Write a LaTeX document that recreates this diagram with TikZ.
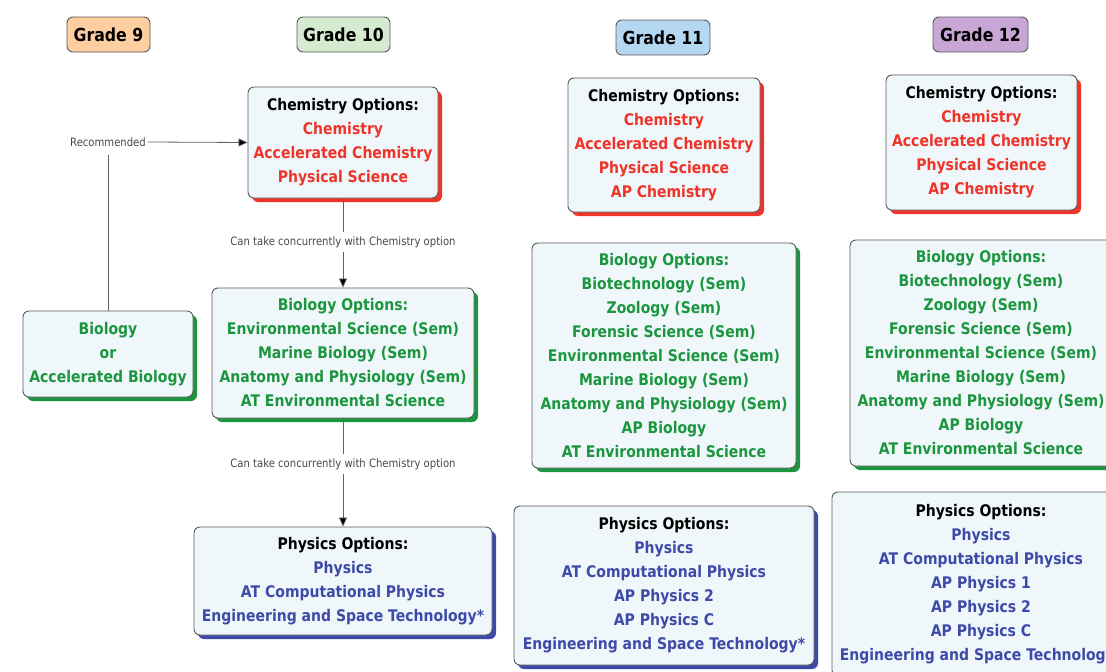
\documentclass[tikz,border=0pt]{standalone}
\usepackage{fontspec}
\setmainfont{DejaVu Sans}[FakeStretch=0.875]
\usetikzlibrary{shadows,arrows.meta}
\definecolor{chemred}{RGB}{238,52,40}
\definecolor{biogreen}{RGB}{28,150,62}
\definecolor{physblue}{RGB}{62,74,168}
\definecolor{boxfill}{RGB}{240,247,250}
\definecolor{boxline}{RGB}{90,90,90}
\definecolor{gnine}{RGB}{252,206,160}
\definecolor{gten}{RGB}{212,235,208}
\definecolor{geleven}{RGB}{180,216,242}
\definecolor{gtwelve}{RGB}{200,166,214}
\begin{document}
\begin{tikzpicture}[x=1pt,y=-1pt,
  box/.style={draw=boxline, line width=0.9pt, fill=boxfill, rounded corners=6pt,
    inner sep=0pt, align=center, font=\bfseries\fontsize{16}{24}\selectfont},
  chembox/.style={box, text=chemred, drop shadow={shadow xshift=4pt, shadow yshift=-4pt, fill=chemred, opacity=1}},
  biobox/.style={box, text=biogreen, drop shadow={shadow xshift=4pt, shadow yshift=-4pt, fill=biogreen, opacity=1}},
  physbox/.style={box, text=physblue, drop shadow={shadow xshift=4pt, shadow yshift=-4pt, fill=physblue, opacity=1}},
  grade/.style={draw=boxline, rounded corners=6pt, line width=0.9pt, inner sep=0pt,
    font=\bfseries\fontsize{18}{20}\selectfont, minimum height=35pt},
  lbl/.style={font=\fontsize{11.5}{12}\selectfont, text=black!72, inner sep=2pt},
  conn/.style={draw=black!62, line width=0.8pt},
  arr/.style={conn, -{Triangle[length=9pt,width=8pt,fill=black]}}
]
\useasboundingbox (0,0) rectangle (1106,672);
\clip (0,0) rectangle (1106,672);

% grade headers
\node[grade, fill=gnine, minimum width=83pt] (g9) at (108.5,34.5) {Grade 9};
\node[grade, fill=gten, minimum width=93pt] (g10) at (343.5,34.5) {Grade 10};
\node[grade, fill=geleven, minimum width=94pt] (g11) at (663,37.5) {Grade 11};
\node[grade, fill=gtwelve, minimum width=95pt] (g12) at (980.5,34.5) {Grade 12};

% grade 9
\node[biobox, minimum width=170pt, minimum height=86pt] (bio9) at (108,354)
  {Biology\\or\\Accelerated Biology};
\node[lbl] (rec) at (108,142) {Recommended};

% grade 10
\node[chembox, minimum width=190pt, minimum height=111pt] (chemA) at (343,142.5)
  {{\color{black}Chemistry Options:}\\Chemistry\\Accelerated Chemistry\\Physical Science};
\node[biobox, minimum width=262pt, minimum height=130pt] (bioA) at (343,353)
  {Biology Options:\\Environmental Science (Sem)\\Marine Biology (Sem)\\Anatomy and Physiology (Sem)\\AT Environmental Science};
\node[physbox, minimum width=298pt, minimum height=108pt] (physA) at (343,581)
  {{\color{black}Physics Options:}\\Physics\\AT Computational Physics\\Engineering and Space Technology*};
\node[lbl] (conc1) at (343,242) {Can take concurrently with Chemistry option};
\node[lbl] (conc2) at (343,464) {Can take concurrently with Chemistry option};

% grade 11
\node[chembox, minimum width=192pt, minimum height=134pt] (chemB) at (664,145)
  {{\color{black}Chemistry Options:}\\Chemistry\\Accelerated Chemistry\\Physical Science\\AP Chemistry};
\node[biobox, minimum width=264pt, minimum height=225pt] (bioB) at (664,355.5)
  {Biology Options:\\Biotechnology (Sem)\\Zoology (Sem)\\Forensic Science (Sem)\\Environmental Science (Sem)\\Marine Biology (Sem)\\Anatomy and Physiology (Sem)\\AP Biology\\AT Environmental Science};
\node[physbox, minimum width=300pt, minimum height=159pt] (physB) at (664,585.5)
  {{\color{black}Physics Options:}\\Physics\\AT Computational Physics\\AP Physics 2\\AP Physics C\\Engineering and Space Technology*};

% grade 12
\node[chembox, minimum width=191pt, minimum height=135pt] (chemC) at (981.5,142.5)
  {{\color{black}Chemistry Options:}\\Chemistry\\Accelerated Chemistry\\Physical Science\\AP Chemistry};
\node[biobox, minimum width=262pt, minimum height=226pt] (bioC) at (981,353)
  {Biology Options:\\Biotechnology (Sem)\\Zoology (Sem)\\Forensic Science (Sem)\\Environmental Science (Sem)\\Marine Biology (Sem)\\Anatomy and Physiology (Sem)\\AP Biology\\AT Environmental Science};
\node[physbox, minimum width=298pt, minimum height=184pt] (physC) at (981,584)
  {{\color{black}Physics Options:}\\Physics\\AT Computational Physics\\AP Physics 1\\AP Physics 2\\AP Physics C\\Engineering and Space Technology*};

% connectors
\draw[arr] (rec.east) -- (chemA.west);
\draw[conn, shorten <=6pt] (rec.south) -- (bio9.north);
\draw[conn, shorten >=2pt] (chemA.south) -- (conc1.north);
\draw[arr, shorten <=2pt] (conc1.south) -- (bioA.north);
\draw[conn, shorten >=2pt] (bioA.south) -- (conc2.north);
\draw[arr, shorten <=2pt] (conc2.south) -- (physA.north);
\end{tikzpicture}
\end{document}
